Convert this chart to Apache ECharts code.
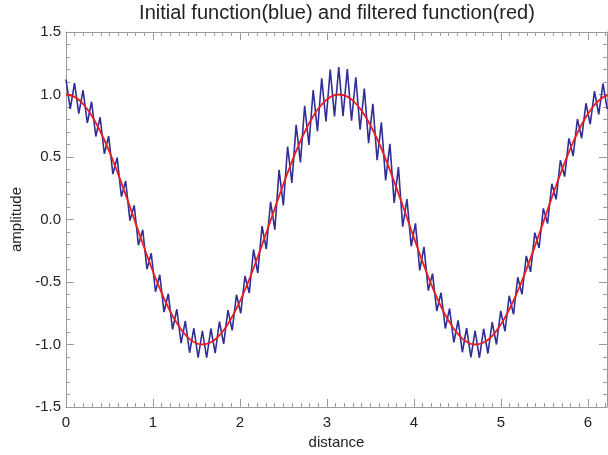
<!DOCTYPE html>
<html>
<head>
<meta charset="utf-8">
<script src="https://cdn.jsdelivr.net/npm/echarts@6/dist/echarts.min.js"></script>
<style>
  html, body { margin: 0; padding: 0; background: #fff; }
  #chart { width: 608px; height: 455px; }
</style>
</head>
<body>
<div id="chart"></div>
<script>
// sample spacing along "distance" (uniform grid, starts at 0)
var blueStep = 0.049
var redStep = 0.098

// initial function (blue): peak / trough alternating
var blueValues = [
  1.12, 0.885, 1.091, 0.847, 1.034, 0.772, 0.942, 0.664, 0.818, 0.526,
  0.667, 0.363, 0.495, 0.183, 0.308, -0.009, 0.113, -0.205, -0.082, -0.397,
  -0.270, -0.578, -0.442, -0.741, -0.594, -0.880, -0.718, -0.989, -0.812, -1.066,
  -0.870, -1.106, -0.890, -1.106, -0.872, -1.069, -0.816, -0.995, -0.725, -0.887,
  -0.602, -0.750, -0.452, -0.588, -0.240, -0.428, -0.053, -0.236, 0.142, -0.081,
  0.397, 0.112, 0.584, 0.293, 0.757, 0.457, 0.910, 0.597, 1.036, 0.707,
  1.130, 0.784, 1.199, 0.824, 1.220, 0.826, 1.203, 0.790, 1.138, 0.718,
  1.048, 0.611, 0.926, 0.474, 0.777, 0.313, 0.605, 0.133, 0.419, -0.058,
  0.164, -0.214, -0.031, -0.407, -0.219, -0.568, -0.433, -0.732, -0.586, -0.872,
  -0.712, -0.984, -0.807, -1.062, -0.868, -1.103, -0.890, -1.107, -0.874, -1.072,
  -0.821, -1.000, -0.731, -0.894, -0.610, -0.759, -0.462, -0.599, -0.291, -0.419,
  -0.105, -0.228, 0.089, -0.032, 0.286, 0.161, 0.474, 0.343, 0.649, 0.508,
  0.803, 0.650, 0.930, 0.762, 1.026, 0.841, 1.087, 0.883
]

// filtered function (red)
var redValues = [
  1.000, 0.981, 0.924, 0.832, 0.708, 0.557, 0.385, 0.198, 0.003, -0.192,
  -0.380, -0.552, -0.704, -0.828, -0.922, -0.980, -1.000, -0.982, -0.926, -0.835,
  -0.712, -0.562, -0.390, -0.203, -0.008, 0.187, 0.374, 0.547, 0.700, 0.826,
  0.920, 0.979, 1.000, 0.983, 0.928, 0.838, 0.716, 0.567, 0.395, 0.209,
  0.014, -0.181, -0.369, -0.543, -0.696, -0.822, -0.917, -0.978, -1.000, -0.984,
  -0.931, -0.841, -0.720, -0.572, -0.401, -0.215, -0.021, 0.176, 0.364, 0.539,
  0.693, 0.820, 0.916, 0.977, 1.000
]

var xTicks = [0, 1, 2, 3, 4, 5, 6]
var yTicks = [-1.5, -1.0, -0.5, 0.0, 0.5, 1.0, 1.5]

var axisGrey = '#9a9a9a'
var textColor = '#222'
var fontName = 'Liberation Sans'

function toPairs (step, values) {
  return values.map(function (v, i) {
    return [+(i * step).toFixed(4), v]
  })
}

function baseAxis (extra) {
  var a = {
    type: 'value',
    axisLine: { show: true, onZero: false, lineStyle: { color: axisGrey, width: 1 } },
    axisTick: { show: true, inside: true, length: 8, lineStyle: { color: axisGrey } },
    minorTick: { show: true, length: 4, lineStyle: { color: axisGrey } },
    splitLine: { show: false },
    axisLabel: { show: false }
  }
  for (var k in extra) a[k] = extra[k]
  return a
}

var chart = echarts.init(document.getElementById('chart'))
var option = {
  backgroundColor: '#fff',
  animation: false,
  title: {
    text: 'Initial function(blue) and filtered function(red)',
    left: 337,
    top: 3,
    padding: 0,
    textAlign: 'center',
    textStyle: { color: textColor, fontSize: 20, fontWeight: 'normal', fontFamily: fontName }
  },
  grid: { left: 66, right: 1, top: 32, bottom: 43 },
  xAxis: [
    baseAxis({
      min: xTicks[0],
      max: 6.22,
      interval: 1,
      position: 'bottom',
      name: 'distance',
      nameLocation: 'middle',
      nameGap: 28,
      nameTextStyle: { color: textColor, fontSize: 15, fontFamily: fontName },
      minorTick: { show: true, splitNumber: 10, length: 4, lineStyle: { color: axisGrey } },
      axisLabel: {
        show: true,
        margin: 8,
        color: textColor,
        fontSize: 15,
        fontFamily: fontName,
        showMaxLabel: false,
        formatter: function (v) { return xTicks.indexOf(v) >= 0 ? String(v) : '' }
      }
    }),
    baseAxis({
      min: xTicks[0],
      max: 6.22,
      interval: 1,
      position: 'top',
      minorTick: { show: true, splitNumber: 10, length: 4, lineStyle: { color: axisGrey } }
    })
  ],
  yAxis: [
    baseAxis({
      min: yTicks[0],
      max: yTicks[yTicks.length - 1],
      interval: 0.5,
      position: 'left',
      name: 'amplitude',
      nameLocation: 'middle',
      nameGap: 40,
      nameRotate: 90,
      nameTextStyle: { color: textColor, fontSize: 15, fontFamily: fontName },
      minorTick: { show: true, splitNumber: 5, length: 4, lineStyle: { color: axisGrey } },
      axisLabel: {
        show: true,
        margin: 5,
        color: textColor,
        fontSize: 15,
        fontFamily: fontName,
        formatter: function (v) { return v.toFixed(1) }
      }
    }),
    baseAxis({
      min: yTicks[0],
      max: yTicks[yTicks.length - 1],
      interval: 0.5,
      position: 'right',
      minorTick: { show: true, splitNumber: 5, length: 4, lineStyle: { color: axisGrey } }
    })
  ],
  series: [
    {
      name: 'initial',
      type: 'line',
      data: toPairs(blueStep, blueValues),
      showSymbol: false,
      clip: true,
      lineStyle: { color: '#2e2e96', width: 1.6 },
      z: 2
    },
    {
      name: 'filtered',
      type: 'line',
      data: toPairs(redStep, redValues),
      smooth: true,
      showSymbol: false,
      clip: true,
      lineStyle: { color: '#ee1c1c', width: 1.8 },
      z: 3
    }
  ]
}
chart.setOption(option)
</script>
</body>
</html>
